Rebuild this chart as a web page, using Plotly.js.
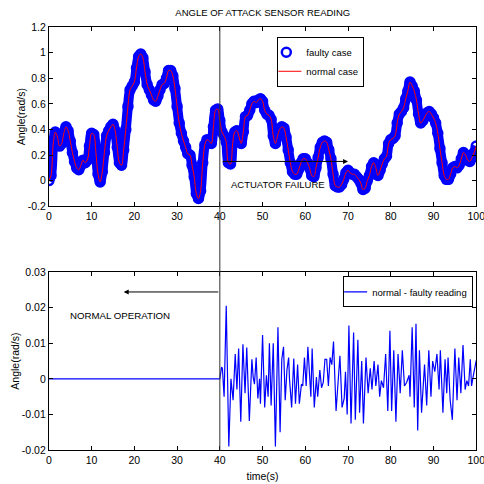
<!DOCTYPE html>
<html>
<head>
<meta charset="utf-8">
<script src="https://cdn.plot.ly/plotly-3.0.1.min.js"></script>
<style>html,body{margin:0;padding:0;background:#fff;}#plot{width:484px;height:484px;}</style>
</head>
<body>
<div id="plot"></div>
<script>
// ---- data ----
var angle = [
 0.00,0.04,0.28,0.38,0.34,0.27,0.29,0.37,0.42,0.39,
 0.31,0.22,0.15,0.10,0.085,0.12,0.16,0.14,0.16,0.27,
 0.37,0.36,0.22,0.05,-0.01,0.07,0.22,0.35,0.39,0.42,
 0.44,0.39,0.26,0.14,0.12,0.24,0.40,0.58,0.71,0.74,
 0.77,0.88,0.97,0.99,0.96,0.85,0.75,0.71,0.67,0.63,
 0.62,0.66,0.71,0.75,0.76,0.80,0.86,0.86,0.82,0.72,
 0.58,0.45,0.37,0.31,0.26,0.21,0.20,0.12,0.03,-0.10,
 -0.14,-0.08,0.14,0.28,0.32,0.31,0.29,0.42,0.55,0.56,
 0.47,0.38,0.35,0.30,0.14,0.13,0.29,0.38,0.39,0.34,
 0.29,0.38,0.50,0.51,0.55,0.60,0.62,0.61,0.63,0.64,
 0.62,0.55,0.52,0.51,0.48,0.35,0.29,0.35,0.40,0.42,
 0.41,0.34,0.24,0.14,0.07,0.05,0.05,0.09,0.14,0.17,
 0.17,0.14,0.10,0.04,0.03,0.10,0.18,0.26,0.30,0.31,
 0.30,0.24,0.17,0.05,-0.04,-0.05,-0.05,-0.03,0.01,0.06,
 0.08,0.06,0.05,0.05,0.03,0.01,-0.02,-0.07,-0.06,0.00,
 0.04,0.11,0.14,0.10,0.04,0.08,0.13,0.17,0.19,0.29,
 0.32,0.33,0.35,0.45,0.52,0.54,0.57,0.64,0.70,0.77,
 0.74,0.70,0.63,0.52,0.45,0.47,0.50,0.53,0.54,0.52,
 0.49,0.45,0.37,0.25,0.14,0.04,0.01,0.01,0.05,0.10,
 0.11,0.10,0.12,0.17,0.22,0.20,0.16,0.15,0.18,0.22,
 0.27
];
var time = [];
for (var i = 0; i < angle.length; i++) time.push(i * 0.5);

var diffTime = [0,40,40.4,40.6,41.0,41.5,42.1,42.6,43.1,43.6,44.0,44.4,44.9,45.4,45.9,46.3,46.9,47.5,47.8,48.1,48.5,48.9,49.3,49.5,
 50.0,50.5,50.9,51.3,51.6,52.0,52.5,53.0,53.6,54.1,54.5,54.9,55.3,55.7,56.1,56.3,56.8,57.3,57.7,58.2,58.6,59.1,59.4,59.8,
 60.2,60.6,61.3,61.6,62.1,62.6,62.9,63.4,63.8,64.2,64.6,65.0,65.4,65.8,66.2,66.6,67.2,67.7,68.1,68.6,69.1,69.4,69.8,
 70.2,70.7,71.3,71.7,72.3,72.7,73.2,73.6,74.2,74.7,75.2,75.6,76.1,76.5,77.0,77.4,77.8,78.3,78.8,79.3,79.8,
 80.2,80.7,81.2,81.7,82.2,82.7,83.2,83.7,84.3,84.5,85.0,85.5,85.9,86.3,86.7,87.2,87.9,88.4,88.9,89.4,89.8,
 90.3,90.8,91.3,91.6,92.2,92.7,93.1,93.4,93.9,94.4,95.0,95.5,95.9,96.4,96.9,97.4,97.8,98.2,98.6,98.9,99.4,100];
var diffValue = [0,0,0.0033,0.003,-0.005,0.0205,-0.019,0.0,-0.006,0.007,-0.003,0.0085,-0.012,0.0097,-0.004,0.0088,-0.0118,0.0055,0.0005,-0.0015,0.006,-0.0055,0.0,-0.007,
 0.0123,-0.008,0.001,-0.005,0.010,-0.0075,0.010,-0.019,0.0145,-0.015,0.0055,0.009,-0.006,0.0025,0.006,0.0,-0.008,0.0057,-0.007,0.004,-0.007,-0.0015,-0.002,0.006,
 -0.002,0.009,-0.005,0.0085,-0.008,0.0005,-0.005,0.0025,-0.0025,-0.001,0.0055,0.0055,-0.002,0.006,0.004,0.0105,-0.009,0.0005,0.0065,-0.008,-0.0055,0.002,-0.01,
 0.015,-0.0125,0.013,-0.0115,0.011,-0.0095,0.005,-0.0125,0.006,-0.004,0.003,-0.003,0.005,-0.002,0.004,-0.005,-0.0005,-0.0025,0.007,-0.009,0.0135,
 -0.009,0.008,-0.012,0.007,-0.004,0.008,-0.002,-0.001,0.001,-0.005,0.0145,-0.008,0.0155,-0.0145,0.008,-0.0095,0.004,-0.0075,0.008,-0.005,0.005,
 0.002,0.007,-0.003,0.008,-0.0095,0.0055,-0.004,0.006,-0.006,-0.0115,0.0085,-0.006,0.006,-0.004,0.0095,-0.003,-0.0005,-0.002,0.0055,-0.002,0.0015,0.0052];

var xTicks = [0,10,20,30,40,50,60,70,80,90,100];
var yTopTicks = [-0.2,0,0.2,0.4,0.6,0.8,1,1.2];
var yTopLabels = ['-0.2','0','0.2','0.4','0.6','0.8','1','1.2'];
var yBotTicks = [-0.02,-0.01,0,0.01,0.02,0.03];
var yBotLabels = ['-0.02','-0.01','0','0.01','0.02','0.03'];

var FONT = 'Liberation Sans, Arial, sans-serif';

var traces = [
  // thick band that the dense faulty-case circles form
  {x: time, y: angle, type: 'scatter', mode: 'lines', showlegend: false, hoverinfo: 'skip',
   line: {color: '#0000ff', width: 10, shape: 'spline'}, xaxis: 'x', yaxis: 'y'},
  {x: time, y: angle, type: 'scatter', mode: 'markers', name: 'faulty case',
   marker: {symbol: 'circle-open', size: 9, color: '#0000ff', line: {width: 2.5, color: '#0000ff'}},
   xaxis: 'x', yaxis: 'y', legend: 'legend'},
  {x: time, y: angle, type: 'scatter', mode: 'lines', name: 'normal case',
   line: {color: '#ff0000', width: 1, shape: 'spline'},
   xaxis: 'x', yaxis: 'y', legend: 'legend'},
  {x: diffTime, y: diffValue, type: 'scatter', mode: 'lines', name: 'normal - faulty reading',
   line: {color: '#0000ff', width: 1.2},
   xaxis: 'x2', yaxis: 'y2', legend: 'legend2'}
];

var axisCommon = {
  showline: true, linecolor: '#000', linewidth: 1, mirror: 'ticks', automargin: false,
  ticks: 'inside', ticklen: 4, tickcolor: '#000', showgrid: false, zeroline: false,
  ticklabeloverflow: 'allow',
  tickfont: {family: FONT, size: 10.5, color: '#000'}
};

var layout = {
  width: 484, height: 484,
  margin: {l: 0, r: 0, t: 0, b: 0},
  paper_bgcolor: '#fff', plot_bgcolor: '#fff',
  font: {family: FONT, color: '#000'},
  title: {text: 'ANGLE OF ATTACK SENSOR READING', font: {family: FONT, size: 9.5, color: '#000'},
          x: 0.543, xanchor: 'center', y: 0.974, yanchor: 'middle'},
  xaxis: Object.assign({}, axisCommon, {domain: [0.101, 0.984], range: [0, 100], tickvals: xTicks, anchor: 'y'}),
  yaxis: Object.assign({}, axisCommon, {domain: [0.574, 0.944], range: [-0.2, 1.2], tickvals: yTopTicks, ticktext: yTopLabels, anchor: 'x',
          title: {text: 'Angle(rad/s)', font: {family: FONT, size: 10.5, color: '#000'}, standoff: 0}}),
  xaxis2: Object.assign({}, axisCommon, {domain: [0.101, 0.984], range: [0, 100], tickvals: xTicks, anchor: 'y2',
          title: {text: 'time(s)', font: {family: FONT, size: 10.5, color: '#000'}, standoff: 7}}),
  yaxis2: Object.assign({}, axisCommon, {domain: [0.070, 0.438], range: [-0.02, 0.03], tickvals: yBotTicks, ticktext: yBotLabels, anchor: 'x2',
          title: {text: 'Angle(rad/s)', font: {family: FONT, size: 10.5, color: '#000'}, standoff: 0}}),
  showlegend: true,
  legend: {x: 0.573, y: 0.924, xanchor: 'left', yanchor: 'top', bgcolor: '#fff', bordercolor: '#000', borderwidth: 1,
           font: {family: FONT, size: 9.5, color: '#000'}, tracegroupgap: 0, itemwidth: 30, indentation: -12},
  legend2: {x: 0.709, y: 0.429, xanchor: 'left', yanchor: 'top', bgcolor: '#fff', bordercolor: '#000', borderwidth: 1,
            font: {family: FONT, size: 9.5, color: '#000'}, itemwidth: 30, indentation: -12},
  shapes: [
    {type: 'line', xref: 'x', yref: 'paper', x0: 40, x1: 40, y0: 0.070, y1: 0.944, line: {color: '#333', width: 1}}
  ],
  annotations: [
    {xref: 'x', yref: 'y', axref: 'x', ayref: 'y', x: 70, y: 0.15, ax: 40.3, ay: 0.15, text: '', showarrow: true,
     arrowhead: 2, arrowsize: 1, arrowwidth: 1, arrowcolor: '#000'},
    {xref: 'x', yref: 'y', x: 42.2, y: -0.03, text: 'ACTUATOR FAILURE', showarrow: false, xanchor: 'left', yanchor: 'middle',
     font: {family: FONT, size: 9.5, color: '#000'}},
    {xref: 'x2', yref: 'y2', axref: 'x2', ayref: 'y2', x: 17.5, y: 0.0244, ax: 40, ay: 0.0244, text: '', showarrow: true,
     arrowhead: 2, arrowsize: 1, arrowwidth: 1, arrowcolor: '#000'},
    {xref: 'x2', yref: 'y2', x: 4.4, y: 0.0178, text: 'NORMAL OPERATION', showarrow: false, xanchor: 'left', yanchor: 'middle',
     font: {family: FONT, size: 9.7, color: '#000'}}
  ]
};

Plotly.newPlot('plot', traces, layout, {displayModeBar: false, staticPlot: true});
</script>
</body>
</html>
